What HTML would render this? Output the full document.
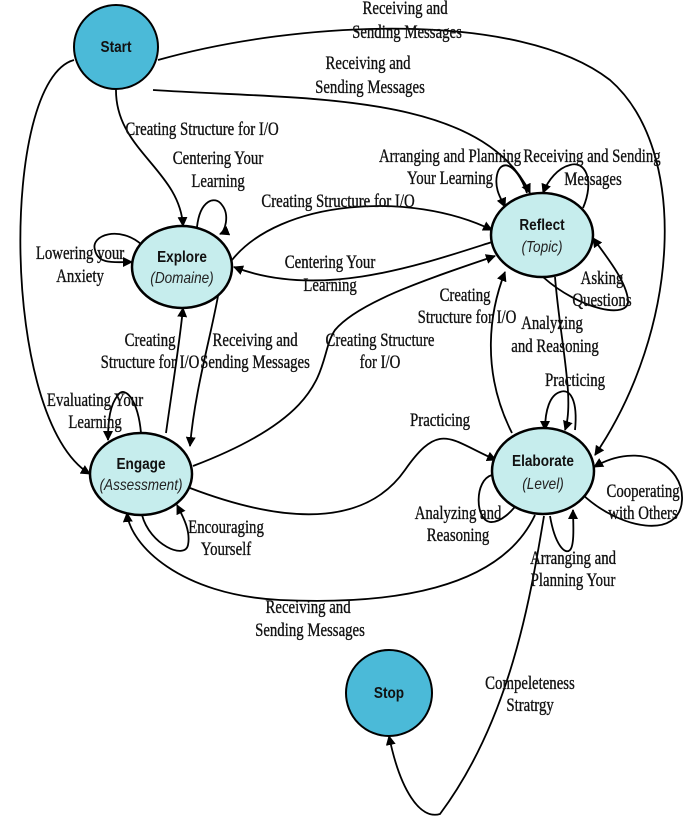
<!DOCTYPE html>
<html><head><meta charset="utf-8"><style>
html,body{margin:0;padding:0;background:#fff;}
svg{display:block;}
.t text{font-family:"Liberation Serif",serif;font-size:19px;fill:#111;stroke:#111;stroke-width:0.35;transform-box:fill-box;transform-origin:center;transform:scaleX(0.78);}
.n{font-family:"Liberation Sans",sans-serif;font-size:16px;font-weight:bold;fill:#111;transform-box:fill-box;transform-origin:center;transform:scaleX(0.85);}
.i{font-family:"Liberation Sans",sans-serif;font-size:16px;font-style:italic;fill:#222;transform-box:fill-box;transform-origin:center;transform:scaleX(0.85);}
path{fill:none;stroke:#000;stroke-width:1.8;}
</style></head><body>
<svg width="685" height="818" viewBox="0 0 685 818" xmlns="http://www.w3.org/2000/svg">
<defs><marker id="a" markerWidth="10" markerHeight="10" refX="9" refY="5" orient="auto" markerUnits="userSpaceOnUse"><path d="M0,0 L10,5 L0,10 Z" style="fill:#000;stroke:none"/></marker></defs>
<g marker-end="url(#a)">
<path d="M158,60 C300,20 520,10 610,80 C690,150 680,330 595,455"/>
<path d="M153,90 C300,100 480,90 530,193"/>
<path d="M116,89 C115,150 180,170 183,226"/>
<path d="M74,60 C0,80 0,420 90,474"/>
<path d="M197,227 C200,200 215,195 222,205 C230,215 225,232 220,234"/>
<path d="M142,245 C120,225 90,235 95,250 C98,265 115,262 132,262"/>
<path d="M232,260 C280,200 410,190 492,230"/>
<path d="M492,242 C420,265 320,300 234,267"/>
<path d="M193,466 C340,410 315,360 335,330 C360,300 440,275 495,256"/>
<path d="M166,433 C172,390 180,340 183,308"/>
<path d="M218,296 C210,340 195,390 190,446"/>
<path d="M141,433 C138,400 125,385 118,395 C110,405 108,420 108,440"/>
<path d="M142,515 C150,545 185,560 188,545 C191,530 182,515 177,505"/>
<path d="M190,488 C300,530 370,520 405,470 C440,420 450,440 496,460"/>
<path d="M535,515 C500,590 390,605 280,600 C180,595 130,545 127,513"/>
<path d="M555,277 C560,340 575,400 565,430"/>
<path d="M512,433 C480,370 490,310 505,272"/>
<path d="M527,193 C515,160 500,160 497,175 C494,190 502,200 505,207"/>
<path d="M583,208 C595,180 585,160 570,165 C558,168 548,180 543,193"/>
<path d="M543,277 C580,310 630,320 628,300 C626,280 605,255 593,238"/>
<path d="M575,430 C578,400 570,388 560,392 C550,395 545,410 545,430"/>
<path d="M582,494 C620,530 680,540 682,500 C684,465 640,440 594,467"/>
<path d="M492,475 C474,480 475,520 490,522 C500,523 512,512 520,500"/>
<path d="M550,516 C555,545 565,555 570,550 C575,545 573,520 573,510"/>
<path d="M544,516 C530,600 510,720 440,814 C420,820 400,790 389,736"/>
</g>
<circle cx="116" cy="47" r="42" fill="#4bbad8" stroke="#000" stroke-width="2"/>
<text class="n" x="116" y="52" text-anchor="middle" font-size="14">Start</text>
<circle cx="389" cy="693" r="43" fill="#4bbad8" stroke="#000" stroke-width="2"/>
<text class="n" x="389" y="698" text-anchor="middle" font-size="14">Stop</text>
<ellipse cx="182" cy="267" rx="50" ry="41" fill="#c6eded" stroke="#000" stroke-width="2.5"/>
<text class="n" x="182" y="262" text-anchor="middle">Explore</text>
<text class="i" x="182" y="283" text-anchor="middle">(Domaine)</text>
<ellipse cx="542" cy="235" rx="51" ry="42" fill="#c6eded" stroke="#000" stroke-width="2.5"/>
<text class="n" x="542" y="230" text-anchor="middle">Reflect</text>
<text class="i" x="542" y="252" text-anchor="middle">(Topic)</text>
<ellipse cx="141" cy="474" rx="51" ry="41" fill="#c6eded" stroke="#000" stroke-width="2.5"/>
<text class="n" x="141" y="469" text-anchor="middle">Engage</text>
<text class="i" x="141" y="490" text-anchor="middle">(Assessment)</text>
<ellipse cx="543" cy="471" rx="51" ry="43" fill="#c6eded" stroke="#000" stroke-width="2.5"/>
<text class="n" x="543" y="466" text-anchor="middle">Elaborate</text>
<text class="i" x="543" y="489" text-anchor="middle">(Level)</text>
<g class="t" text-anchor="middle">
<text x="405" y="14">Receiving and</text><text x="407" y="38">Sending Messages</text>
<text x="368" y="69">Receiving and</text><text x="370" y="93">Sending Messages</text>
<text x="202" y="135">Creating Structure for I/O</text>
<text x="218" y="164">Centering Your</text><text x="218" y="187">Learning</text>
<text x="338" y="207">Creating Structure for I/O</text>
<text x="80" y="259">Lowering your</text><text x="80" y="282">Anxiety</text>
<text x="330" y="268">Centering Your</text><text x="330" y="291">Learning</text>
<text x="450" y="162">Arranging and  Planning</text><text x="450" y="184">Your Learning</text>
<text x="592" y="162">Receiving and Sending</text><text x="593" y="185">Messages</text>
<text x="602" y="284">Asking</text><text x="602" y="306">Questions</text>
<text x="465" y="301">Creating</text><text x="467" y="323">Structure for I/O</text>
<text x="552" y="329">Analyzing</text><text x="555" y="352">and Reasoning</text>
<text x="380" y="346">Creating Structure</text><text x="380" y="368">for I/O</text>
<text x="150" y="346">Creating</text><text x="150" y="368">Structure for I/O</text>
<text x="255" y="346">Receiving and</text><text x="255" y="368">Sending Messages</text>
<text x="575" y="386">Practicing</text>
<text x="95" y="406">Evaluating Your</text><text x="95" y="428">Learning</text>
<text x="440" y="426">Practicing</text>
<text x="226" y="533">Encouraging</text><text x="226" y="555">Yourself</text>
<text x="643" y="497">Cooperating</text><text x="643" y="519">with Others</text>
<text x="458" y="519">Analyzing and</text><text x="458" y="541">Reasoning</text>
<text x="573" y="564">Arranging and</text><text x="573" y="586">Planning Your</text>
<text x="308" y="613">Receiving and</text><text x="310" y="636">Sending Messages</text>
<text x="530" y="689">Compeleteness</text><text x="530" y="711">Stratrgy</text>
</g>
</svg>
</body></html>
